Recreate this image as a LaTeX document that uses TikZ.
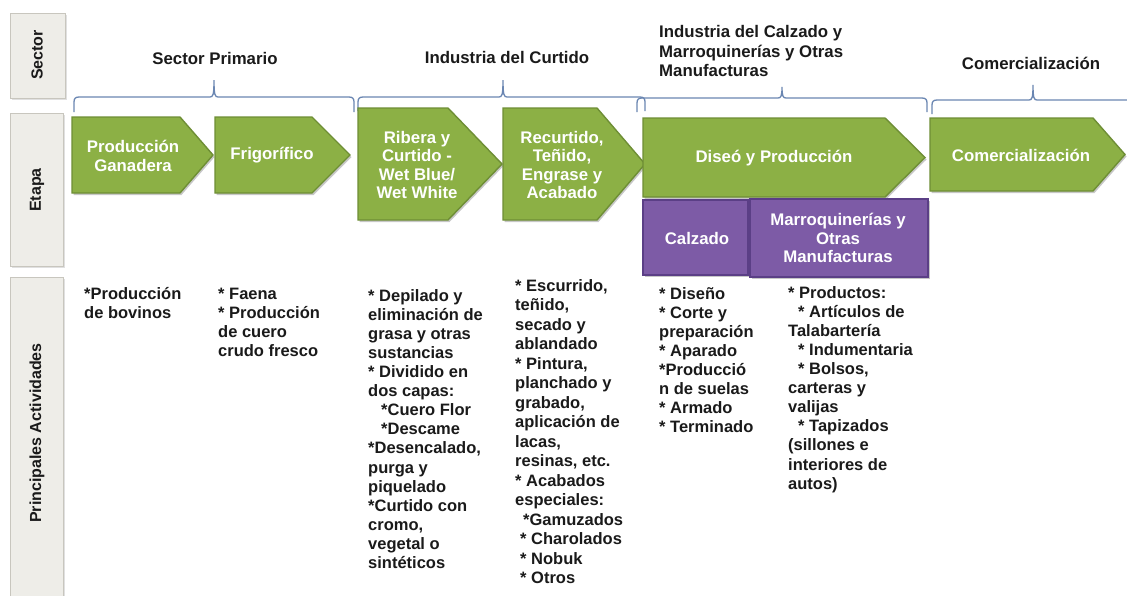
\documentclass[tikz,border=0pt]{standalone}
\usepackage{fontspec}
\setmainfont{Liberation Sans}
\usetikzlibrary{calc}
\definecolor{gfill}{HTML}{8CB045}
\definecolor{gdraw}{HTML}{6E8E35}
\definecolor{pfill}{HTML}{7D5BA6}
\definecolor{pdraw}{HTML}{5B3F86}
\definecolor{brc}{HTML}{6A86B2}
\definecolor{lfill}{HTML}{EEEDE8}
\definecolor{ldraw}{HTML}{C8C6BE}
\definecolor{ink}{HTML}{1A1A1A}
\newcommand\greenarrow[5]{%
  \fill[black,opacity=.22] (#1+1.5,#2+2) -- (#4+1.5,#2+2) -- (#5+1.5,{(#2+#3)/2+2}) -- (#4+1.5,#3+2) -- (#1+1.5,#3+2) -- cycle;
  \filldraw[garrowc] (#1,#2) -- (#4,#2) -- (#5,{(#2+#3)/2}) -- (#4,#3) -- (#1,#3) -- cycle;}
\newcommand\purplebox[4]{%
  \fill[black,opacity=.22] (#1+1.5,#2+2) rectangle (#3+1.5,#4+2);
  \filldraw[pboxc] (#1,#2) rectangle (#3,#4);}
\newcommand\leftbox[4]{%
  \fill[black,opacity=.12] (#1+1.5,#2+1.5) rectangle (#3+1.5,#4+1.5);
  \filldraw[lboxc] (#1,#2) rectangle (#3,#4);}
% brace: x1, x2, tip, line y, bottom y, top y
\newcommand\topbrace[6]{%
  \draw[bracec] (#1,#5) -- (#1,#4+5) .. controls (#1,#4+1.5) and (#1+1.5,#4) .. (#1+5,#4)
    -- (#3-4,#4) .. controls (#3-1,#4) and (#3,#4-2) .. (#3,#6)
    .. controls (#3,#4-2) and (#3+1,#4) .. (#3+4,#4)
    -- (#2-5,#4) .. controls (#2-1.5,#4) and (#2,#4+1.5) .. (#2,#4+5) -- (#2,#5);}
\begin{document}
\begin{tikzpicture}[x=1pt,y=-1pt,
  garrowc/.style={fill=gfill,draw=gdraw,line width=1.4pt,line join=miter},
  pboxc/.style={fill=pfill,draw=pdraw,line width=1.4pt},
  lboxc/.style={fill=lfill,draw=ldraw,line width=0.8pt},
  bracec/.style={draw=brc,line width=1.3pt},
  intext/.style={font=\bfseries\fontsize{16.8}{18.6}\selectfont,text=white,align=center,inner sep=0pt},
  hdr/.style={font=\bfseries\fontsize{16.8}{19.1}\selectfont,text=ink,align=center,inner sep=0pt},
  side/.style={font=\bfseries\fontsize{16}{19}\selectfont,text=ink,rotate=90,inner sep=0pt},
  act/.style={font=\bfseries\fontsize{16.5}{19.1}\selectfont,text=ink,align=left,inner sep=0pt,anchor=north west},
  actb/.style={font=\bfseries\fontsize{16.5}{19.5}\selectfont,text=ink,align=left,inner sep=0pt,anchor=north west}]
\fill[white] (0,0) rectangle (1127,595);
\useasboundingbox (0,0) rectangle (1127,595);

% left column
\leftbox{10}{13}{65}{98}
\leftbox{10}{113}{63}{266}
\leftbox{10}{277}{63}{600}
\node[side] (lsector) at (37,55) {Sector};
\node[side] (letapa) at (37,190) {Etapa};
\node[side] (lact) at (37,433) {Principales Actividades};

% sector headers
\node[hdr] (h1) at (215,58) {Sector Primario};
\node[hdr] (h2) at (507,57) {Industria del Curtido};
\node[hdr,align=left,anchor=west] (h3) at (659,51) {Industria del Calzado y\\Marroquinerías y Otras\\Manufacturas};
\node[hdr] (h4) at (1031,63) {Comercialización};

% braces
\topbrace{74}{354}{214}{97}{112}{80}
\topbrace{358}{645}{503}{97}{111}{80}
\topbrace{637}{927}{782}{98}{112}{87}
\topbrace{932}{1145}{1033}{100}{114}{85}

% stage arrows
\greenarrow{72}{117}{193}{180}{213}
\greenarrow{215}{117}{193}{312}{350}
\greenarrow{358}{108}{220}{448}{502}
\greenarrow{503}{108}{220}{597}{645}
\greenarrow{643}{118}{197}{885}{925}
\greenarrow{930}{118}{191}{1093}{1125}
\purplebox{643}{200}{748}{275}
\purplebox{750}{199}{928}{277}

\node[intext] (e1) at (133,156) {Producción\\Ganadera};
\node[intext] (e2) at (272,155) {Frigorífico};
\node[intext] (e3) at (417,165) {Ribera y\\Curtido -\\Wet Blue/\\Wet White};
\node[intext] (e4) at (562,165) {Recurtido,\\Teñido,\\Engrase y\\Acabado};
\node[intext] (e5) at (774,158) {Diseó y Producción};
\node[intext] (e6) at (1021,155) {Comercialización};
\node[intext] (p1) at (697,238) {Calzado};
\node[intext] (p2) at (838,238) {Marroquinerías y\\Otras\\Manufacturas};

% activities
\node[act] (a1) at (84,285.6) {\strut*Producción\\de bovinos};
\node[act] (a2) at (218,285.6) {\strut* Faena\\* Producción\\de cuero\\crudo fresco};
\node[act] (a3) at (368,287.6) {\strut* Depilado y\\eliminación de\\grasa y otras\\sustancias\\* Dividido en\\dos capas:\\\hspace*{13pt}*Cuero Flor\\\hspace*{13pt}*Descame\\*Desencalado,\\purga y\\piquelado\\*Curtido con\\cromo,\\vegetal o\\sintéticos};
\node[actb] (a4) at (515,277.4) {\strut* Escurrido,\\teñido,\\secado y\\ablandado\\* Pintura,\\planchado y\\grabado,\\aplicación de\\lacas,\\resinas, etc.\\* Acabados\\especiales:\\\hspace*{8pt}*Gamuzados\\\hspace*{5pt}* Charolados\\\hspace*{5pt}* Nobuk\\\hspace*{5pt}* Otros};
\node[act] (a5) at (659,285.6) {\strut* Diseño\\* Corte y\\preparación\\* Aparado\\*Producció\\n de suelas\\* Armado\\* Terminado};
\node[act] (a6) at (788,284.6) {\strut* Productos:\\\hspace*{10pt}* Artículos de\\Talabartería\\\hspace*{10pt}* Indumentaria\\\hspace*{10pt}* Bolsos,\\carteras y\\valijas\\\hspace*{10pt}* Tapizados\\(sillones e\\interiores de\\autos)};
\end{tikzpicture}
\end{document}
